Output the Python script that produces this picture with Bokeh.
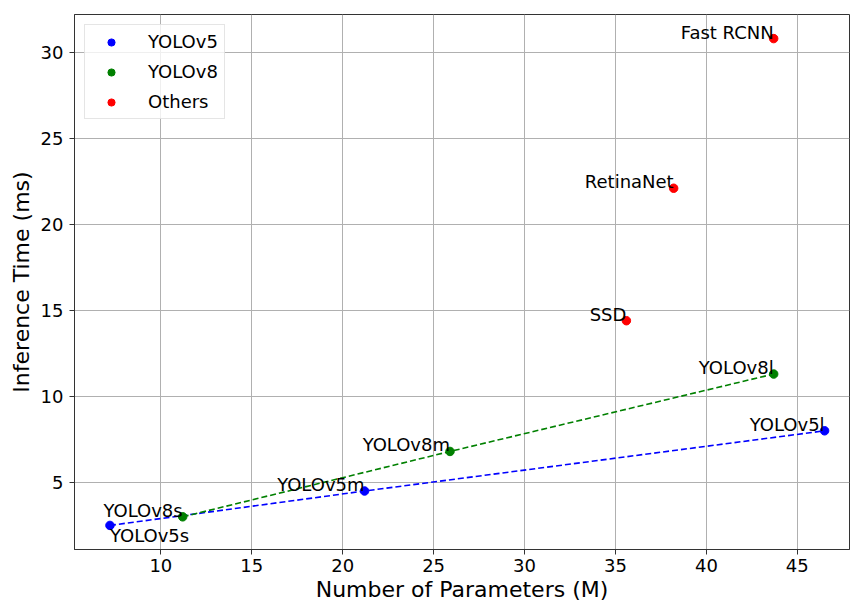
from bokeh.plotting import figure
from bokeh.models import ColumnDataSource, FixedTicker, Range1d, Legend, LegendItem
from bokeh.core.properties import value
from bokeh.embed import file_html
from bokeh.resources import INLINE

# Data
v5_names = ["YOLOv5s", "YOLOv5m", "YOLOv5l"]
v5_params = [7.2, 21.2, 46.5]
v5_time = [2.5, 4.5, 8.0]

v8_names = ["YOLOv8s", "YOLOv8m", "YOLOv8l"]
v8_params = [11.2, 25.9, 43.7]
v8_time = [3.0, 6.8, 11.3]

oth_names = ["SSD", "RetinaNet", "Fast RCNN"]
oth_params = [35.6, 38.2, 43.7]
oth_time = [14.4, 22.1, 30.8]

x_ticks = [10, 15, 20, 25, 30, 35, 40, 45]
y_ticks = [5, 10, 15, 20, 25, 30]

FONT = "DejaVu Sans"

p = figure(frame_width=775, frame_height=535, output_backend="svg", toolbar_location=None,
           x_range=Range1d(5.25, 47.87), y_range=Range1d(1.1, 32.2),
           min_border_top=14, min_border_right=1, min_border_left=10, min_border_bottom=0,
           margin=(0, 0, 0, 5))
p.background_fill_color = "white"
p.border_fill_color = "white"
p.outline_line_color = "#333333"
p.outline_line_width = 1

for ax in (p.xaxis[0], p.yaxis[0]):
    ax.major_label_text_font = FONT
    ax.major_label_text_font_size = "18px"
    ax.major_label_text_color = "black"
    ax.axis_label_text_font = FONT
    ax.axis_label_text_font_size = "22px"
    ax.axis_label_text_font_style = "normal"
    ax.axis_label_text_color = "black"
    ax.axis_line_color = "#333333"
    ax.major_tick_line_color = "#333333"
    ax.major_tick_out = 5
    ax.major_tick_in = 0
    ax.minor_tick_line_color = None

p.xaxis.axis_label = "Number of Parameters (M)"
p.yaxis.axis_label = "Inference Time (ms)"
p.xaxis.ticker = FixedTicker(ticks=x_ticks)
p.yaxis.ticker = FixedTicker(ticks=y_ticks)
p.xaxis.major_label_standoff = 4
p.yaxis.major_label_standoff = 6
p.xaxis.axis_label_standoff = 2
p.yaxis.axis_label_standoff = 4

p.xgrid.ticker = FixedTicker(ticks=x_ticks)
p.ygrid.ticker = FixedTicker(ticks=y_ticks)
p.grid.grid_line_color = "#b0b0b0"
p.grid.grid_line_width = 1

# dashed connecting lines
p.line(v5_params, v5_time, line_color="blue", line_dash="6 3", line_width=1.6)
p.line(v8_params, v8_time, line_color="green", line_dash="6 3", line_width=1.6)

r5 = p.scatter(v5_params, v5_time, size=8.5, color="blue")
r8 = p.scatter(v8_params, v8_time, size=8.5, color="green")
ro = p.scatter(oth_params, oth_time, size=8.5, color="red")

# labels
def labels(xs, ys, names, align, baseline, yoff):
    src = ColumnDataSource(dict(x=xs, y=ys, t=names))
    p.text(x="x", y="y", text="t", source=src, text_font=value(FONT),
           text_font_size="18px", text_color="black",
           text_align=align, text_baseline=baseline, y_offset=yoff)

labels(v5_params[:1], v5_time[:1], v5_names[:1], "left", "top", 0)
labels(v5_params[1:], v5_time[1:], v5_names[1:], "right", "bottom", 4)
labels(v8_params, v8_time, v8_names, "right", "bottom", 4)
labels(oth_params, oth_time, oth_names, "right", "bottom", 4)

legend = Legend(items=[LegendItem(label="YOLOv5", renderers=[r5]),
                       LegendItem(label="YOLOv8", renderers=[r8]),
                       LegendItem(label="Others", renderers=[ro])],
                location="top_left")
legend.label_text_font = FONT
legend.label_text_font_size = "18px"
legend.label_text_color = "black"
legend.border_line_color = "#cccccc"
legend.border_line_width = 1
legend.background_fill_alpha = 0.8
legend.glyph_width = 40
legend.glyph_height = 18
legend.label_height = 18
legend.spacing = 9
legend.padding = 6
legend.margin = 10
legend.label_standoff = 17
p.add_layout(legend)

open("out.html", "w").write(file_html(p, INLINE))
